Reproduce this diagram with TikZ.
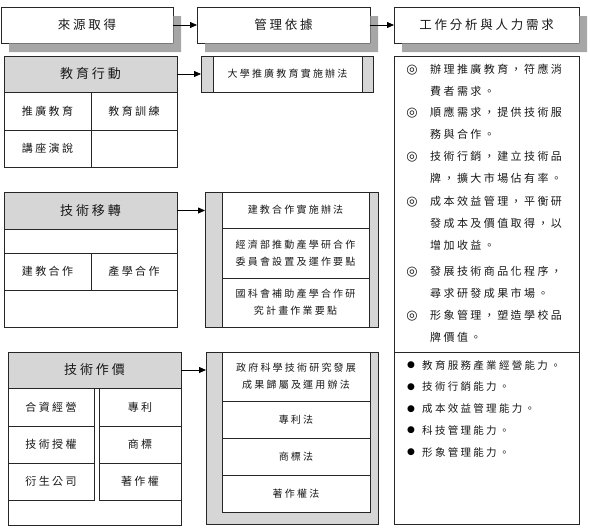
\documentclass[tikz,border=0pt]{standalone}
\usepackage{fontspec}
\newfontfamily\cjk{Noto Sans CJK TC}[LetterSpace=22]
\newfontfamily\symf{DejaVu Sans}
\usetikzlibrary{arrows.meta}
\definecolor{shadowgray}{HTML}{A6A6A6}
\begin{document}
\begin{tikzpicture}[x=1pt,y=-1pt,font=\cjk,
  box/.style={draw=black!85,line width=0.8pt,inner sep=0pt,outer sep=0pt,fill=white,align=center,text=black!90},
  hdr/.style={box,font={\cjk\fontsize{12.5}{15}\selectfont}},
  shadowpath/.style={fill=shadowgray,draw=none},
  sechead/.style={box,fill=black!16,font={\cjk\fontsize{13}{15}\selectfont}},
  cell/.style={box,font={\cjk\fontsize{11}{13}\selectfont}},
  strip/.style={box,fill=black!16},
  rulebox/.style={box,font={\cjk\fontsize{10}{17}\selectfont}},
  listtext/.style={inner sep=0pt,anchor=north west,align=left,text=black!90,font={\cjk\fontsize{11}{22}\selectfont}},
  itemmark/.style={inner sep=0pt,text=black!90,font={\symf\fontsize{13}{14}\selectfont}},
  bul/.style={inner sep=0pt,text=black,font={\symf\fontsize{9}{10}\selectfont}},
  bultext/.style={inner sep=0pt,anchor=west,text=black!90,font={\cjk\fontsize{10.5}{13}\selectfont}},
  conn/.style={-{Triangle[length=7pt,width=6pt]},line width=0.8pt,draw=black}]
\useasboundingbox (0,0) rectangle (590,530);
% headers
\node[hdr,minimum width=172pt,minimum height=36pt] (h1) at (87,25) {來源取得};
\node[hdr,minimum width=173pt,minimum height=36pt] (h2) at (283.5,25) {管理依據};
\node[hdr,minimum width=185pt,minimum height=36pt] (h3) at (486.5,25) {工作分析與人力需求};
% L-shaped shadows, drawn after the boxes
\foreach \h in {h1,h2,h3}{
  \fill[shadowpath] ([xshift=8pt,yshift=-0.4pt]\h.south west) -- ([xshift=0.4pt,yshift=-0.4pt]\h.south east)
    -- ([xshift=0.4pt,yshift=-9pt]\h.north east) -- ([xshift=8pt,yshift=-9pt]\h.north east)
    -- ([xshift=8pt,yshift=-9pt]\h.south east) -- ([xshift=8pt,yshift=-9pt]\h.south west) -- cycle;
}
\draw[conn] (h1) -- (h2);
\draw[conn] (h2) -- (h3);
% section 1
\node[sechead,minimum width=173pt,minimum height=36pt] (t1h) at (90.5,74) {教育行動};
\node[cell,minimum width=87pt,minimum height=38pt] (t1a) at (47.5,111) {推廣教育};
\node[cell,minimum width=86pt,minimum height=38pt] (t1b) at (134,111) {教育訓練};
\node[cell,minimum width=87pt,minimum height=37pt] (t1c) at (47.5,148.5) {講座演說};
\node[cell,minimum width=86pt,minimum height=37pt] (t1d) at (134,148.5) {};
\node[strip,minimum width=172pt,minimum height=36pt] (r1) at (287,74) {};
\node[rulebox,minimum width=149pt,minimum height=36pt] (r1i) at (287.5,74) {大學推廣教育實施辦法};
\draw[conn] (t1h.east) -- (t1h.east -| r1.west);
% section 2
\node[sechead,minimum width=173pt,minimum height=37pt] (t2h) at (90.5,210.5) {技術移轉};
\node[cell,minimum width=173pt,minimum height=24pt] (t2e1) at (90.5,241) {};
\node[cell,minimum width=87pt,minimum height=37pt] (t2a) at (47.5,271.5) {建教合作};
\node[cell,minimum width=86pt,minimum height=37pt] (t2b) at (134,271.5) {產學合作};
\node[cell,minimum width=173pt,minimum height=37pt] (t2e2) at (90.5,308.5) {};
\node[strip,minimum width=173pt,minimum height=135pt] (r2) at (291.5,259.5) {};
\node[rulebox,minimum width=147pt,minimum height=36pt] (r2a) at (295.5,210) {建教合作實施辦法};
\node[rulebox,minimum width=147pt,minimum height=50pt] (r2b) at (295.5,253) {經濟部推動產學研合作\\委員會設置及運作要點};
\node[rulebox,minimum width=147pt,minimum height=49pt] (r2c) at (295.5,302.5) {國科會補助產學合作研\\究計畫作業要點};
\draw[conn] (t2h.east) -- (t2h.east -| r2.west);
% section 3
\node[box,minimum width=173pt,minimum height=173pt] (t3o) at (94.5,438.5) {};
\node[sechead,minimum width=173pt,minimum height=36pt] (t3h) at (94.5,370) {技術作價};
\node[cell,minimum width=86pt,minimum height=38pt] (t3a) at (51,407) {合資經營};
\node[cell,minimum width=82pt,minimum height=38pt] (t3b) at (140,407) {專利};
\node[cell,minimum width=86pt,minimum height=37pt] (t3c) at (51,444.5) {技術授權};
\node[cell,minimum width=82pt,minimum height=37pt] (t3d) at (140,444.5) {商標};
\node[cell,minimum width=86pt,minimum height=37pt] (t3e) at (51,481.5) {衍生公司};
\node[cell,minimum width=82pt,minimum height=37pt] (t3f) at (140,481.5) {著作權};
\node[strip,minimum width=172pt,minimum height=172pt] (r3) at (292,438) {};
\node[rulebox,minimum width=148pt,minimum height=49pt] (r3a) at (296,376.5) {政府科學技術研究發展\\成果歸屬及運用辦法};
\node[rulebox,minimum width=148pt,minimum height=37pt] (r3b) at (296,419.5) {專利法};
\node[rulebox,minimum width=148pt,minimum height=37pt] (r3c) at (296,456.5) {商標法};
\node[rulebox,minimum width=148pt,minimum height=37pt] (r3d) at (296,493.5) {著作權法};
\draw[conn] (t3h.east) -- (t3h.east -| r3.west);
% right column
\node[box,minimum width=185pt,minimum height=296pt] (l1) at (486.5,204) {};
\node[box,minimum width=185pt,minimum height=172pt] (l2) at (486.5,438) {};
\node[itemmark] (m1) at (412,70) {◎};
\node[listtext] (i1) at (430,64) {辦理推廣教育，符應消\\費者需求。};
\node[itemmark] (m2) at (412,113) {◎};
\node[listtext] (i2) at (430,107) {順應需求，提供技術服\\務與合作。};
\node[itemmark] (m3) at (412,157) {◎};
\node[listtext] (i3) at (430,151) {技術行銷，建立技術品\\牌，擴大市場佔有率。};
\node[itemmark] (m4) at (412,202) {◎};
\node[listtext] (i4) at (430,196) {成本效益管理，平衡研\\發成本及價值取得，以\\增加收益。};
\node[itemmark] (m5) at (412,272) {◎};
\node[listtext] (i5) at (430,266) {發展技術商品化程序，\\尋求研發成果市場。};
\node[itemmark] (m6) at (412,316) {◎};
\node[listtext] (i6) at (430,310) {形象管理，塑造學校品\\牌價值。};
\node[bul] (b1) at (411,365) {●};
\node[bultext] (c1) at (422,365) {教育服務產業經營能力。};
\node[bul] (b2) at (411,387) {●};
\node[bultext] (c2) at (422,387) {技術行銷能力。};
\node[bul] (b3) at (411,409) {●};
\node[bultext] (c3) at (422,409) {成本效益管理能力。};
\node[bul] (b4) at (411,430) {●};
\node[bultext] (c4) at (422,430) {科技管理能力。};
\node[bul] (b5) at (411,452) {●};
\node[bultext] (c5) at (422,452) {形象管理能力。};
\end{tikzpicture}
\end{document}
